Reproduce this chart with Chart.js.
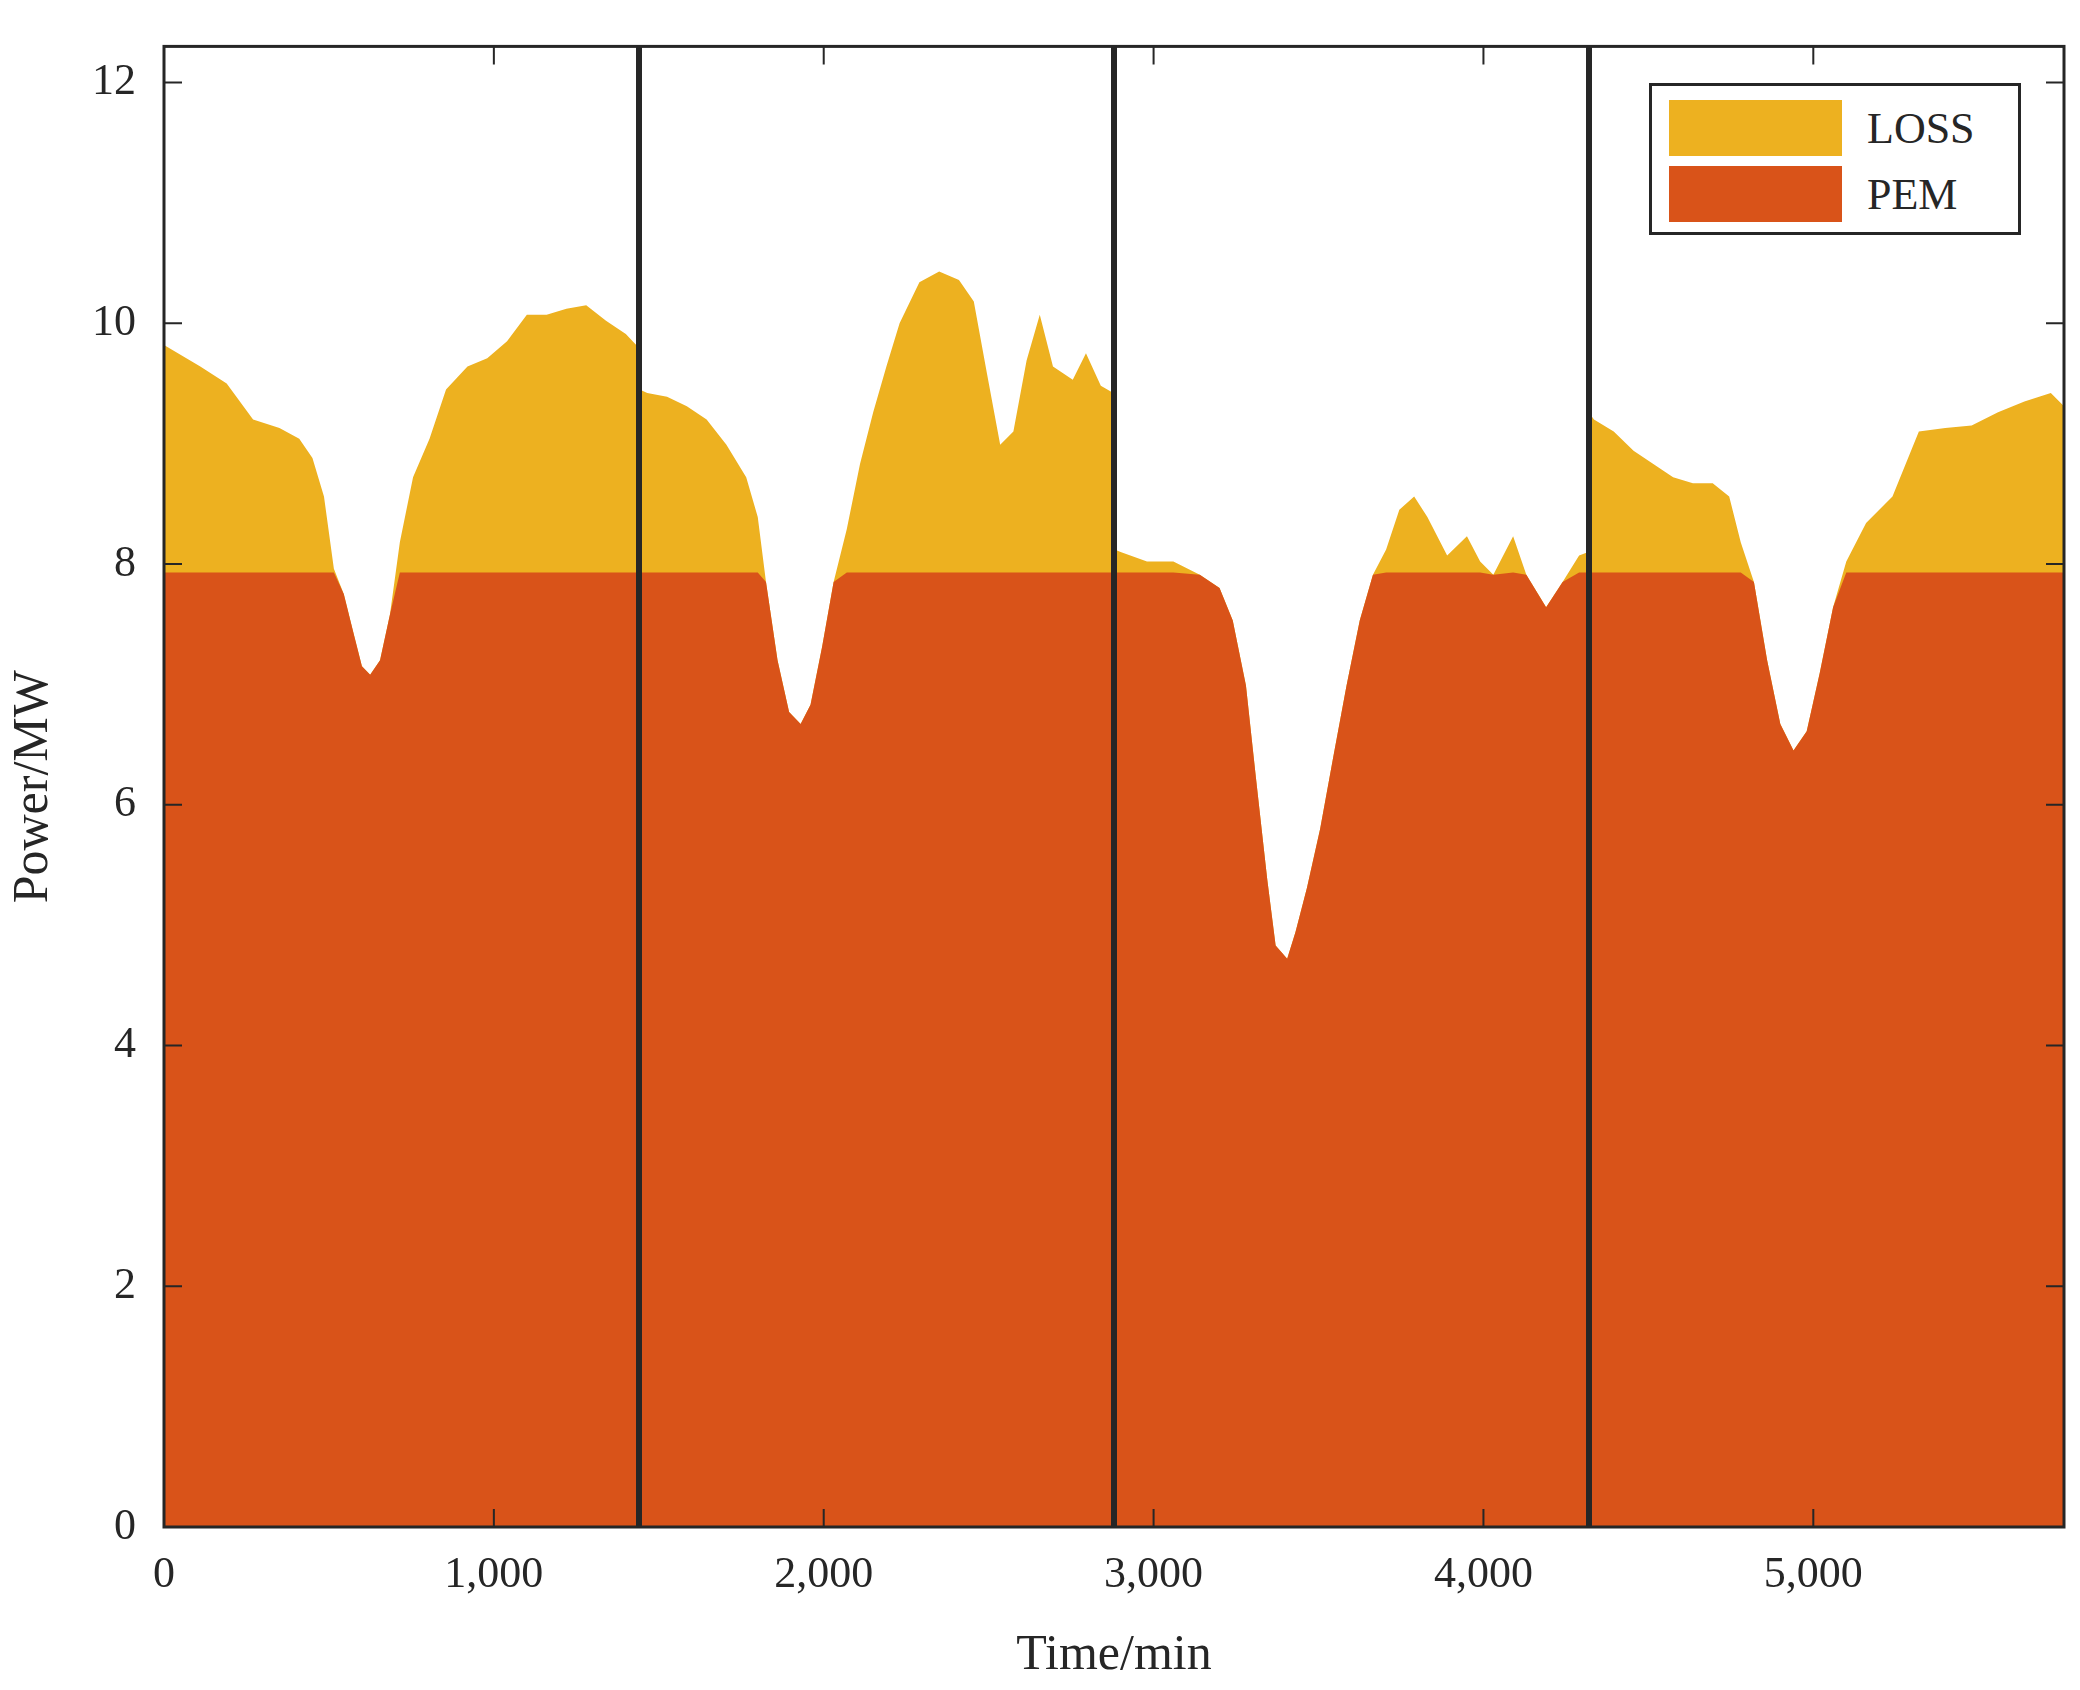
<!DOCTYPE html>
<html>
<head>
<meta charset="utf-8">
<script src="https://cdn.jsdelivr.net/npm/chart.js@4"></script>
<style>
body { margin: 0; background: #fff; }
#wrap { position: relative; width: 2080px; height: 1690px; }
#legend { position: absolute; left: 1649px; top: 83px; width: 366px; height: 146px; border: 3px solid #262626; background: #fff; font-family: "Liberation Serif", serif; font-size: 44px; color: #262626; }
.item { position: absolute; left: 17px; display: flex; align-items: center; }
.sw { width: 173px; height: 56px; margin-right: 25px; }
</style>
</head>
<body>
<div id="wrap">
<canvas id="powerChart" width="2080" height="1690"></canvas>
<div id="legend">
  <div class="item" style="top:14px"><div class="sw" style="background:#EDB120"></div>LOSS</div>
  <div class="item" style="top:80px"><div class="sw" style="background:#D95319"></div>PEM</div>
</div>
</div>
<script>
// total power (min, MW)
var tiempos = [0,110,190,270,350,410,450,485,515,545,575,600,625,655,685,715,755,805,855,920,980,1040,1100,1160,1220,1280,1340,1400,1438,
  1442,1465,1525,1585,1645,1705,1765,1800,1825,1860,1895,1930,1960,1995,2030,2070,2110,2150,2190,2230,2290,2350,2410,2455,2495,2535,2575,2615,2655,2695,2755,2795,2840,2878,
  2882,2900,2980,3060,3140,3200,3240,3280,3310,3345,3370,3405,3430,3465,3505,3545,3585,3625,3665,3705,3745,3790,3830,3890,3950,3990,4030,4090,4130,4190,4240,4290,4318,
  4322,4335,4395,4455,4515,4575,4635,4695,4745,4780,4820,4860,4900,4940,4980,5020,5060,5100,5160,5240,5320,5400,5480,5560,5640,5720,5760];
var potencia = [9.82,9.64,9.5,9.2,9.13,9.04,8.88,8.56,7.96,7.75,7.42,7.15,7.08,7.2,7.58,8.18,8.72,9.04,9.45,9.64,9.71,9.85,10.07,10.07,10.12,10.15,10.02,9.91,9.8,
  9.45,9.42,9.39,9.31,9.2,8.99,8.72,8.39,7.85,7.2,6.77,6.67,6.83,7.31,7.85,8.29,8.83,9.26,9.64,10.0,10.34,10.43,10.36,10.18,9.58,8.99,9.1,9.69,10.07,9.64,9.53,9.75,9.48,9.42,
  8.12,8.1,8.02,8.02,7.91,7.8,7.53,6.99,6.23,5.37,4.83,4.72,4.94,5.31,5.8,6.4,6.99,7.53,7.91,8.12,8.45,8.56,8.39,8.07,8.23,8.02,7.91,8.23,7.91,7.64,7.85,8.07,8.1,
  9.25,9.2,9.1,8.94,8.83,8.72,8.67,8.67,8.56,8.18,7.85,7.2,6.67,6.45,6.61,7.1,7.64,8.02,8.34,8.56,9.1,9.13,9.15,9.26,9.35,9.42,9.31];
var limitePEM = 7.93;
var cortesDia = [1440, 2880, 4320];
var ticksX = [0, 1000, 2000, 3000, 4000, 5000];
var ticksY = [0, 2, 4, 6, 8, 10, 12];

var puntosTotal = tiempos.map(function(t, i) { return {x: t, y: potencia[i]}; });
var puntosPEM = tiempos.map(function(t, i) { return {x: t, y: Math.min(potencia[i], limitePEM)}; });

var datasets = [
  { label: 'PEM', data: puntosPEM, borderWidth: 0, pointRadius: 0, backgroundColor: '#D95319', fill: 'origin', order: 1 },
  { label: 'LOSS', data: puntosTotal, borderWidth: 0, pointRadius: 0, backgroundColor: '#EDB120', fill: 'origin', order: 2 }
];
cortesDia.forEach(function(c) {
  datasets.push({ data: [{x: c, y: 0}, {x: c, y: 12.3}], borderColor: '#262626', borderWidth: 6, pointRadius: 0, fill: false, order: 0 });
});

// ejes con ticks hacia adentro, estilo MATLAB
var marcos = {
  id: 'marcos',
  afterDatasetsDraw: function(c) {
    var ctx = c.ctx, a = c.chartArea, sx = c.scales.x, sy = c.scales.y;
    ctx.save();
    ctx.strokeStyle = '#262626';
    ctx.lineWidth = 3;
    ctx.strokeRect(a.left, a.top, a.right - a.left, a.bottom - a.top);
    ctx.lineWidth = 2;
    ctx.beginPath();
    ticksX.forEach(function(v) {
      var p = sx.getPixelForValue(v);
      ctx.moveTo(p, a.bottom); ctx.lineTo(p, a.bottom - 18);
      ctx.moveTo(p, a.top); ctx.lineTo(p, a.top + 18);
    });
    ticksY.forEach(function(v) {
      var p = sy.getPixelForValue(v);
      ctx.moveTo(a.left, p); ctx.lineTo(a.left + 18, p);
      ctx.moveTo(a.right, p); ctx.lineTo(a.right - 18, p);
    });
    ctx.stroke();
    ctx.restore();
  }
};

var fuente = { family: 'Liberation Serif', size: 44 };

new Chart(document.getElementById('powerChart').getContext('2d'), {
  type: 'line',
  data: { datasets: datasets },
  options: {
    responsive: false,
    animation: false,
    layout: { padding: { top: 23, right: 16, left: 0, bottom: 0 } },
    plugins: { legend: { display: false }, tooltip: { enabled: false } },
    elements: { line: { tension: 0 } },
    scales: {
      x: {
        type: 'linear', min: 0, max: 5760,
        afterBuildTicks: function(s) { s.ticks = ticksX.map(function(v) { return {value: v}; }); },
        afterFit: function(s) { s.height = 163; },
        grid: { display: false },
        border: { display: false },
        ticks: { color: '#262626', font: fuente, padding: 14, maxRotation: 0 },
        title: { display: true, text: 'Time/min', color: '#262626', font: { family: 'Liberation Serif', size: 50 }, padding: { top: 0 } }
      },
      y: {
        type: 'linear', min: 0, max: 12.3,
        afterBuildTicks: function(s) { s.ticks = ticksY.map(function(v) { return {value: v}; }); },
        afterFit: function(s) { s.width = 164; },
        grid: { display: false },
        border: { display: false },
        ticks: { color: '#262626', font: fuente, padding: 20 },
        title: { display: true, text: 'Power/MW', color: '#262626', font: { family: 'Liberation Serif', size: 50 }, padding: { bottom: 10 } }
      }
    }
  },
  plugins: [marcos]
});
</script>
</body>
</html>
